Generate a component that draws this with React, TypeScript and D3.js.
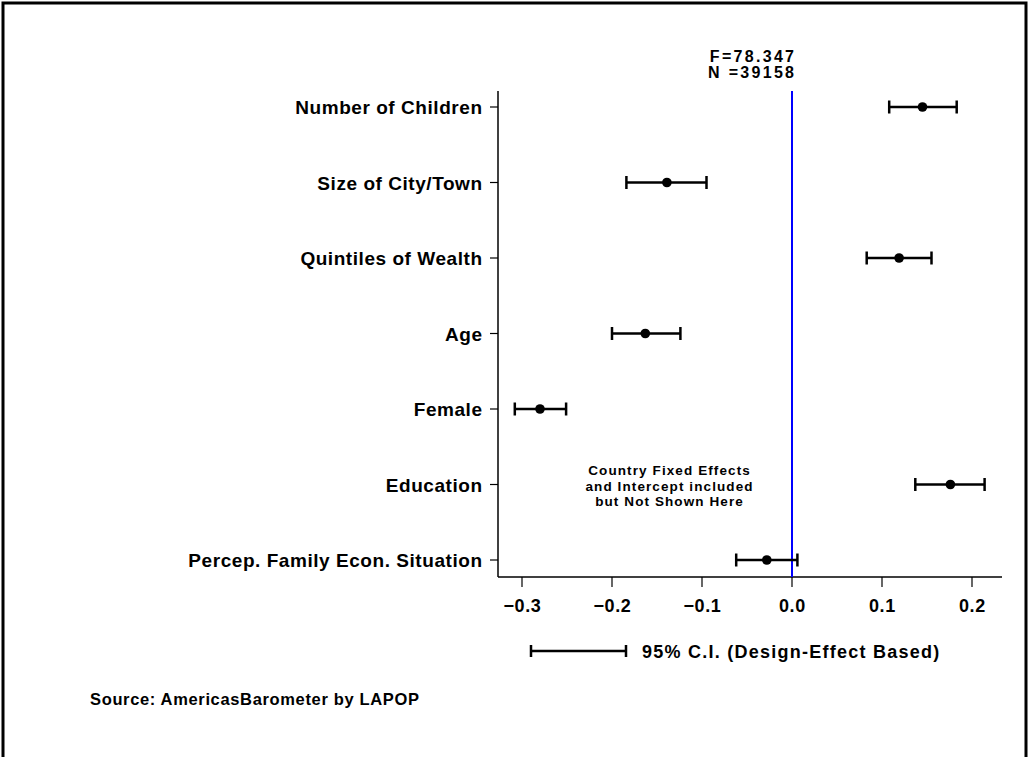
import React from "react";
import * as d3 from "d3";

const categories = [
  "Number of Children",
  "Size of City/Town",
  "Quintiles of Wealth",
  "Age",
  "Female",
  "Education",
  "Percep. Family Econ. Situation",
];
const estimates = [0.145, -0.139, 0.119, -0.163, -0.28, 0.176, -0.028];
const lower = [0.108, -0.184, 0.083, -0.2, -0.308, 0.137, -0.062];
const upper = [0.183, -0.095, 0.155, -0.124, -0.251, 0.214, 0.006];
const xTicks = [-0.3, -0.2, -0.1, 0.0, 0.1, 0.2];
const statsText = ["F=78.347", "N =39158"];
const noteText = ["Country Fixed Effects", "and Intercept included", "but Not Shown Here"];
const legendText = "95% C.I. (Design-Effect Based)";
const sourceText = "Source: AmericasBarometer by LAPOP";

const W = 1029;
const H = 757;
const FONT = "'Liberation Sans', Arial, Helvetica, sans-serif";

export default function App() {
  const plotLeft = 498;
  const plotRight = 1002;
  const plotTop = 91;
  const plotBottom = 577;
  const x = d3.scaleLinear().domain([-0.3, 0.2]).range([522, 972]);
  const y = d3.scalePoint<string>().domain(categories).range([107, 560]);
  const capH = 6.5;
  const catLS = 0.55;
  const statLS = 2.3;
  const noteLS = 1.1;

  return (
    <svg
      width={W}
      height={H}
      style={{ position: "absolute", left: 0, top: 0, background: "#fff" }}
      fontFamily={FONT}
      fontWeight="bold"
    >
      <rect x={0} y={0} width={W} height={H} fill="#fff" />
      {/* frame */}
      <path d={`M3,${H} V3 H1026 V${H}`} fill="none" stroke="#000" strokeWidth={3} />

      {/* axes */}
      <line x1={plotLeft} x2={plotLeft} y1={plotTop} y2={plotBottom} stroke="#000" strokeWidth={1.5} />
      <line x1={plotLeft} x2={plotRight} y1={plotBottom} y2={plotBottom} stroke="#000" strokeWidth={1.5} />

      {/* y ticks & labels */}
      {categories.map((c) => (
        <g key={c}>
          <line x1={plotLeft - 8} x2={plotLeft} y1={y(c)} y2={y(c)} stroke="#000" strokeWidth={1.2} />
          <text
            x={482 + catLS}
            y={(y(c) as number) + 7}
            textAnchor="end"
            fontSize={19}
            letterSpacing={catLS}
            fill="#000"
          >
            {c}
          </text>
        </g>
      ))}

      {/* x ticks & labels */}
      {xTicks.map((t) => (
        <g key={t}>
          <line x1={x(t)} x2={x(t)} y1={plotBottom} y2={plotBottom + 10} stroke="#000" strokeWidth={1.2} />
          <text
            x={x(t) + 0.4}
            y={plotBottom + 35}
            textAnchor="middle"
            fontSize={18}
            letterSpacing={0.6}
            fill="#000"
          >
            {d3.format(".1f")(t)}
          </text>
        </g>
      ))}

      {/* zero line */}
      <line x1={x(0)} x2={x(0)} y1={plotTop} y2={plotBottom} stroke="#0000ff" strokeWidth={2} />

      {/* error bars */}
      {categories.map((c, i) => {
        const cy = y(c) as number;
        return (
          <g key={"e" + c} stroke="#000" strokeWidth={2.5}>
            <line x1={x(lower[i])} x2={x(upper[i])} y1={cy} y2={cy} />
            <line x1={x(lower[i])} x2={x(lower[i])} y1={cy - capH} y2={cy + capH} />
            <line x1={x(upper[i])} x2={x(upper[i])} y1={cy - capH} y2={cy + capH} />
            <circle cx={x(estimates[i])} cy={cy} r={4.8} fill="#000" stroke="none" />
          </g>
        );
      })}

      {/* stats */}
      {statsText.map((s, i) => (
        <text
          key={s}
          x={794 + statLS}
          y={62 + i * 16}
          textAnchor="end"
          fontSize={16}
          letterSpacing={statLS}
          fill="#000"
        >
          {s}
        </text>
      ))}

      {/* note */}
      {noteText.map((s, i) => (
        <text
          key={s}
          x={669 + noteLS / 2}
          y={475 + i * 15.5}
          textAnchor="middle"
          fontSize={13.5}
          letterSpacing={noteLS}
          fill="#000"
        >
          {s}
        </text>
      ))}

      {/* legend */}
      <g stroke="#000" strokeWidth={2.5}>
        <line x1={531} x2={626} y1={651} y2={651} />
        <line x1={531} x2={531} y1={645} y2={657} />
        <line x1={626} x2={626} y1={645} y2={657} />
      </g>
      <text x={642} y={658} fontSize={18} letterSpacing={1.25} fill="#000">
        {legendText}
      </text>

      {/* source */}
      <text x={90} y={705} fontSize={16.5} letterSpacing={0.65} fill="#000">
        {sourceText}
      </text>
    </svg>
  );
}
